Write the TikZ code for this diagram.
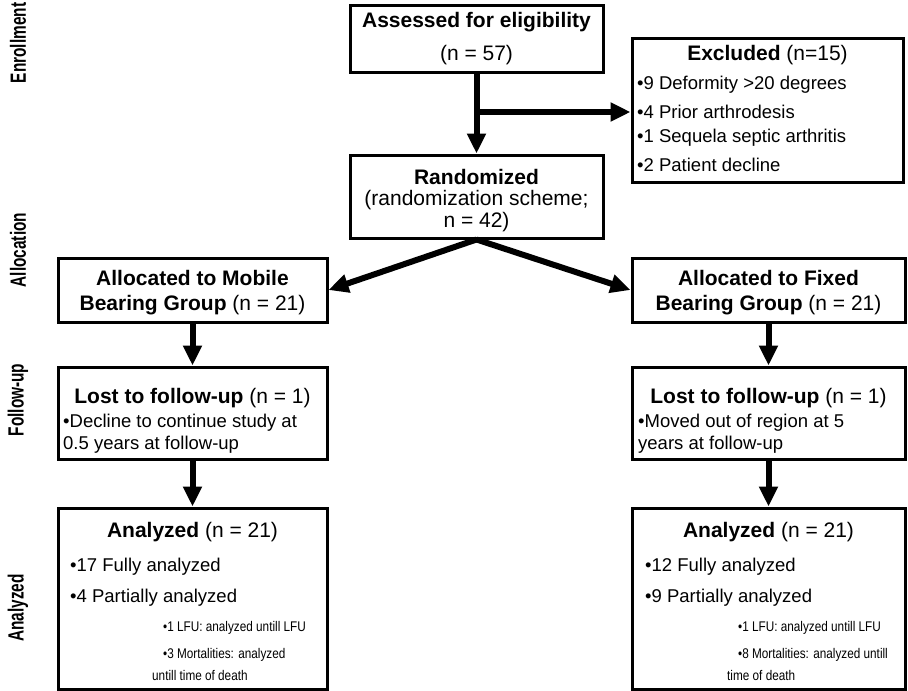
\documentclass[tikz,border=0pt]{standalone}
\usepackage{fontspec}
\usepackage{graphicx}
\setmainfont{Liberation Sans}
\usetikzlibrary{arrows.meta,fit}
\newcommand{\narrowsub}[1]{\scalebox{0.84}[1]{#1}}
\newcommand{\narrowside}[1]{\scalebox{0.7}[1]{#1}}
\tikzset{
  box/.style={draw=black, line width=3pt, inner sep=0pt, rectangle},
  arr/.style={draw=black, line width=6pt, -{Triangle[width=18pt,length=20pt]}},
  ttl/.style={font=\fontsize{21}{24}\selectfont, inner sep=0pt},
  body/.style={font=\fontsize{18.5}{22}\selectfont, inner sep=0pt, anchor=west},
  subb/.style={font=\fontsize{14}{16}\selectfont, inner sep=0pt, anchor=west},
  side/.style={font=\fontsize{22}{25}\selectfont\bfseries, rotate=90, inner sep=0pt},
}
\begin{document}
\begin{tikzpicture}[x=1pt,y=-1pt]
\useasboundingbox (0,0) rectangle (908,691);
% side labels
\node[side] (lenr) at (18,43) {\narrowside{Enrollment}};
\node[side] (lall) at (18,250) {\narrowside{Allocation}};
\node[side] (lfol) at (18,400) {\narrowside{Follow-up}};
\node[side] (lana) at (18,608) {\narrowside{Analyzed}};
% boxes
\node[box, fit={(350,5) (603,72)}] (assess) {};
\node[box, fit={(350,155) (603,238)}] (rand) {};
\node[box, fit={(632,38) (903,182)}] (excl) {};
\node[box, fit={(58,258) (327,322)}] (mob) {};
\node[box, fit={(632,258) (905,322)}] (fix) {};
\node[box, fit={(58,367) (327,459)}] (lostL) {};
\node[box, fit={(632,367) (905,459)}] (lostR) {};
\node[box, fit={(58,508) (327,689)}] (anaL) {};
\node[box, fit={(632,508) (905,689)}] (anaR) {};
% texts
\node[ttl] (t1) at (476.5,22) {\bfseries Assessed for eligibility};
\node[ttl] (t2) at (476.5,55) {(n = 57)};
\node[ttl] (t3) at (476.5,177) {\bfseries Randomized};
\node[ttl] (t4) at (476.5,200) {(randomization scheme;};
\node[ttl] (t5) at (476.5,222) {n = 42)};
\node[ttl] (t6) at (767.5,55) {{\bfseries Excluded} (n=15)};
\node[body] (e1) at (637,85) {•9 Deformity >20 degrees};
\node[body] (e2) at (637,112) {•4 Prior arthrodesis};
\node[body] (e3) at (637,138) {•1 Sequela septic arthritis};
\node[body] (e4) at (637,165) {•2 Patient decline};
\node[ttl] (m1) at (192.5,278) {\bfseries Allocated to Mobile};
\node[ttl] (m2) at (192.5,305) {{\bfseries Bearing Group} (n = 21)};
\node[ttl] (f1) at (768.5,278) {\bfseries Allocated to Fixed};
\node[ttl] (f2) at (768.5,305) {{\bfseries Bearing Group} (n = 21)};
\node[ttl] (l1) at (192.5,398) {{\bfseries Lost to follow-up} (n = 1)};
\node[body] (l2) at (63,423) {•Decline to continue study at};
\node[body] (l3) at (63,445) {0.5 years at follow-up};
\node[ttl] (r1) at (768.5,398) {{\bfseries Lost to follow-up} (n = 1)};
\node[body] (r2) at (638,423) {•Moved out of region at 5};
\node[body] (r3) at (638,445) {years at follow-up};
\node[ttl] (a1) at (192.5,532) {{\bfseries Analyzed} (n = 21)};
\node[body] (a2) at (70,567) {•17 Fully analyzed};
\node[body] (a3) at (70,598) {•4 Partially analyzed};
\node[subb] (a4) at (163,628) {\narrowsub{•1 LFU: analyzed untill LFU}};
\node[subb] (a5) at (163,655) {\narrowsub{•3 Mortalities: analyzed}};
\node[subb] (a6) at (152,675) {\narrowsub{untill time of death}};
\node[ttl] (b1) at (768.5,532) {{\bfseries Analyzed} (n = 21)};
\node[body] (b2) at (645,567) {•12 Fully analyzed};
\node[body] (b3) at (645,598) {•9 Partially analyzed};
\node[subb] (b4) at (738,628) {\narrowsub{•1 LFU: analyzed untill LFU}};
\node[subb] (b5) at (738,655) {\narrowsub{•8 Mortalities: analyzed untill}};
\node[subb] (b6) at (727,675) {\narrowsub{time of death}};
% connectors
\draw[arr] (assess.south) -- (rand.north);
\coordinate (br) at (476.5,112);
\draw[arr] (br) -- (br -| excl.west);
\draw[arr] (rand.south) -- (mob.east);
\draw[arr] (rand.south) -- (fix.west);
\draw[arr] (mob.south) -- (lostL.north);
\draw[arr] (lostL.south) -- (anaL.north);
\draw[arr] (fix.south) -- (lostR.north);
\draw[arr] (lostR.south) -- (anaR.north);
\end{tikzpicture}
\end{document}
